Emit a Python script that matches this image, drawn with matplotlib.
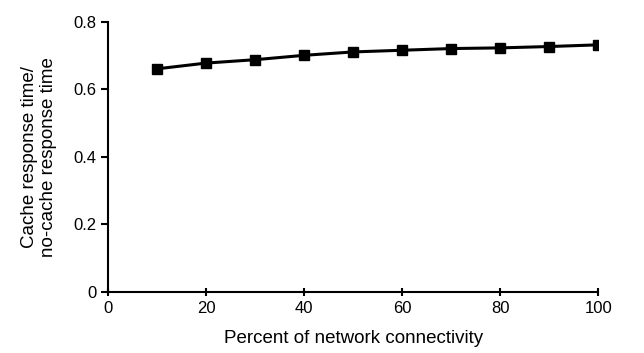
import matplotlib
matplotlib.use("Agg")
import matplotlib.pyplot as plt

plt.rcParams['font.family'] = ['Liberation Sans', 'DejaVu Sans']

connectivity = [10, 20, 30, 40, 50, 60, 70, 80, 90, 100]
ratio = [0.661, 0.678, 0.688, 0.701, 0.711, 0.716, 0.721, 0.723, 0.727, 0.732]
xticks = [0, 20, 40, 60, 80, 100]
yticks = [0, 0.2, 0.4, 0.6, 0.8]
yticklabels = ['0', '0.2', '0.4', '0.6', '0.8']

fig = plt.figure(figsize=(6.44, 3.53), dpi=100)
ax = fig.add_axes([0.168, 0.173, 0.761, 0.765])
ax.plot(connectivity, ratio, color='black', lw=2.2, marker='s', ms=7, mfc='black', mec='black')
ax.set_xlim(0, 100)
ax.set_ylim(0, 0.8)
ax.set_xticks(xticks)
ax.set_xticklabels([str(t) for t in xticks])
ax.set_yticks(yticks)
ax.set_yticklabels(yticklabels)
for s in ['top', 'right']:
    ax.spines[s].set_visible(False)
for s in ['left', 'bottom']:
    ax.spines[s].set_linewidth(1.5)
ax.tick_params(axis='both', labelsize=12, width=1.5, length=5, direction='out')
ax.tick_params(axis='x', direction='inout', length=6)
ax.set_xlabel('Percent of network connectivity', fontsize=13.5, labelpad=10)
ax.set_ylabel('Cache response time/\nno-cache response time', fontsize=13.5, labelpad=12, linespacing=1.15)
fig.savefig('out.png', dpi=100)
